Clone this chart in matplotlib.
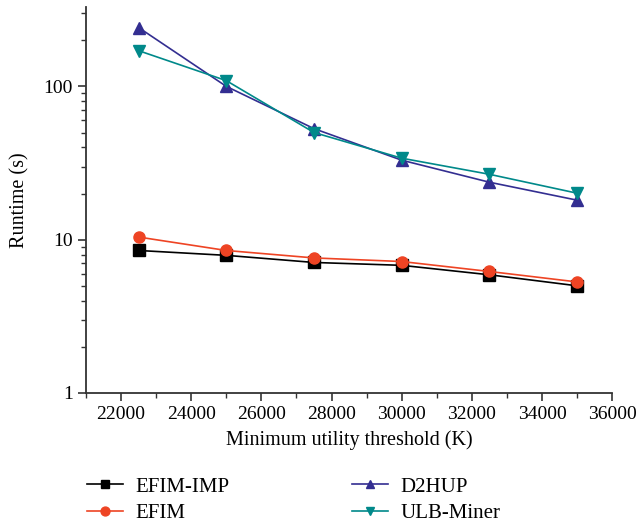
import numpy as np
import matplotlib.pyplot as plt
from matplotlib.ticker import MultipleLocator, LogLocator, FixedLocator, NullFormatter

plt.rcParams['font.family'] = ['Liberation Serif', 'DejaVu Serif']

thresholds = [22500, 25000, 27500, 30000, 32500, 35000]
efim_imp = [8.5, 7.9, 7.1, 6.8, 5.9, 5.0]
efim = [10.4, 8.5, 7.6, 7.2, 6.2, 5.3]
d2hup = [242, 100, 53, 33, 23.7, 18.1]
ulb_miner = [171, 109, 50, 34, 26.7, 20.1]

series = [
    ('EFIM-IMP', efim_imp, 'black', 's'),
    ('EFIM', efim, '#EE4424', 'o'),
    ('D2HUP', d2hup, '#332E91', '^'),
    ('ULB-Miner', ulb_miner, '#00898A', 'v'),
]

fig = plt.figure(figsize=(6.37, 5.31), dpi=100)
ax = fig.add_axes([0.135, 0.260, 0.826, 0.727])

for name, vals, col, mk in series:
    ax.plot(thresholds, vals, color=col, marker=mk, markersize=8, linewidth=1.2, label=name)

ax.set_yscale('log')
ax.set_ylim(1, 330)
ax.set_xlim(21000, 36000)
ax.xaxis.set_major_locator(FixedLocator(np.arange(22000, 36001, 2000)))
ax.xaxis.set_minor_locator(MultipleLocator(1000))
ax.yaxis.set_minor_locator(LogLocator(base=10, subs=np.arange(2, 10), numticks=20))
ax.yaxis.set_minor_formatter(NullFormatter())
ax.set_yticks([1, 10, 100])
ax.set_yticklabels(['1', '10', '100'])

for side in ['top', 'right']:
    ax.spines[side].set_visible(False)
for side in ['left', 'bottom']:
    ax.spines[side].set_linewidth(1.3)
    ax.spines[side].set_color('#333333')

ax.tick_params(which='major', direction='out', length=6, width=1.2, labelsize=14, colors='#333333', labelcolor='black')
ax.tick_params(which='minor', direction='out', length=3.5, width=1.0, colors='#333333')

ax.set_xlabel('Minimum utility threshold (K)', fontsize=14.5, labelpad=5)
ax.set_ylabel('Runtime (s)', fontsize=14.5, labelpad=10)

fig.legend(loc='center left', bbox_to_anchor=(0.137, 0.058), ncol=2, frameon=False,
           fontsize=15, columnspacing=5.9, handlelength=1.7, handletextpad=0.6,
           labelspacing=0.35, borderaxespad=0, borderpad=0, markerscale=0.8)

fig.savefig('out.png', dpi=100)
